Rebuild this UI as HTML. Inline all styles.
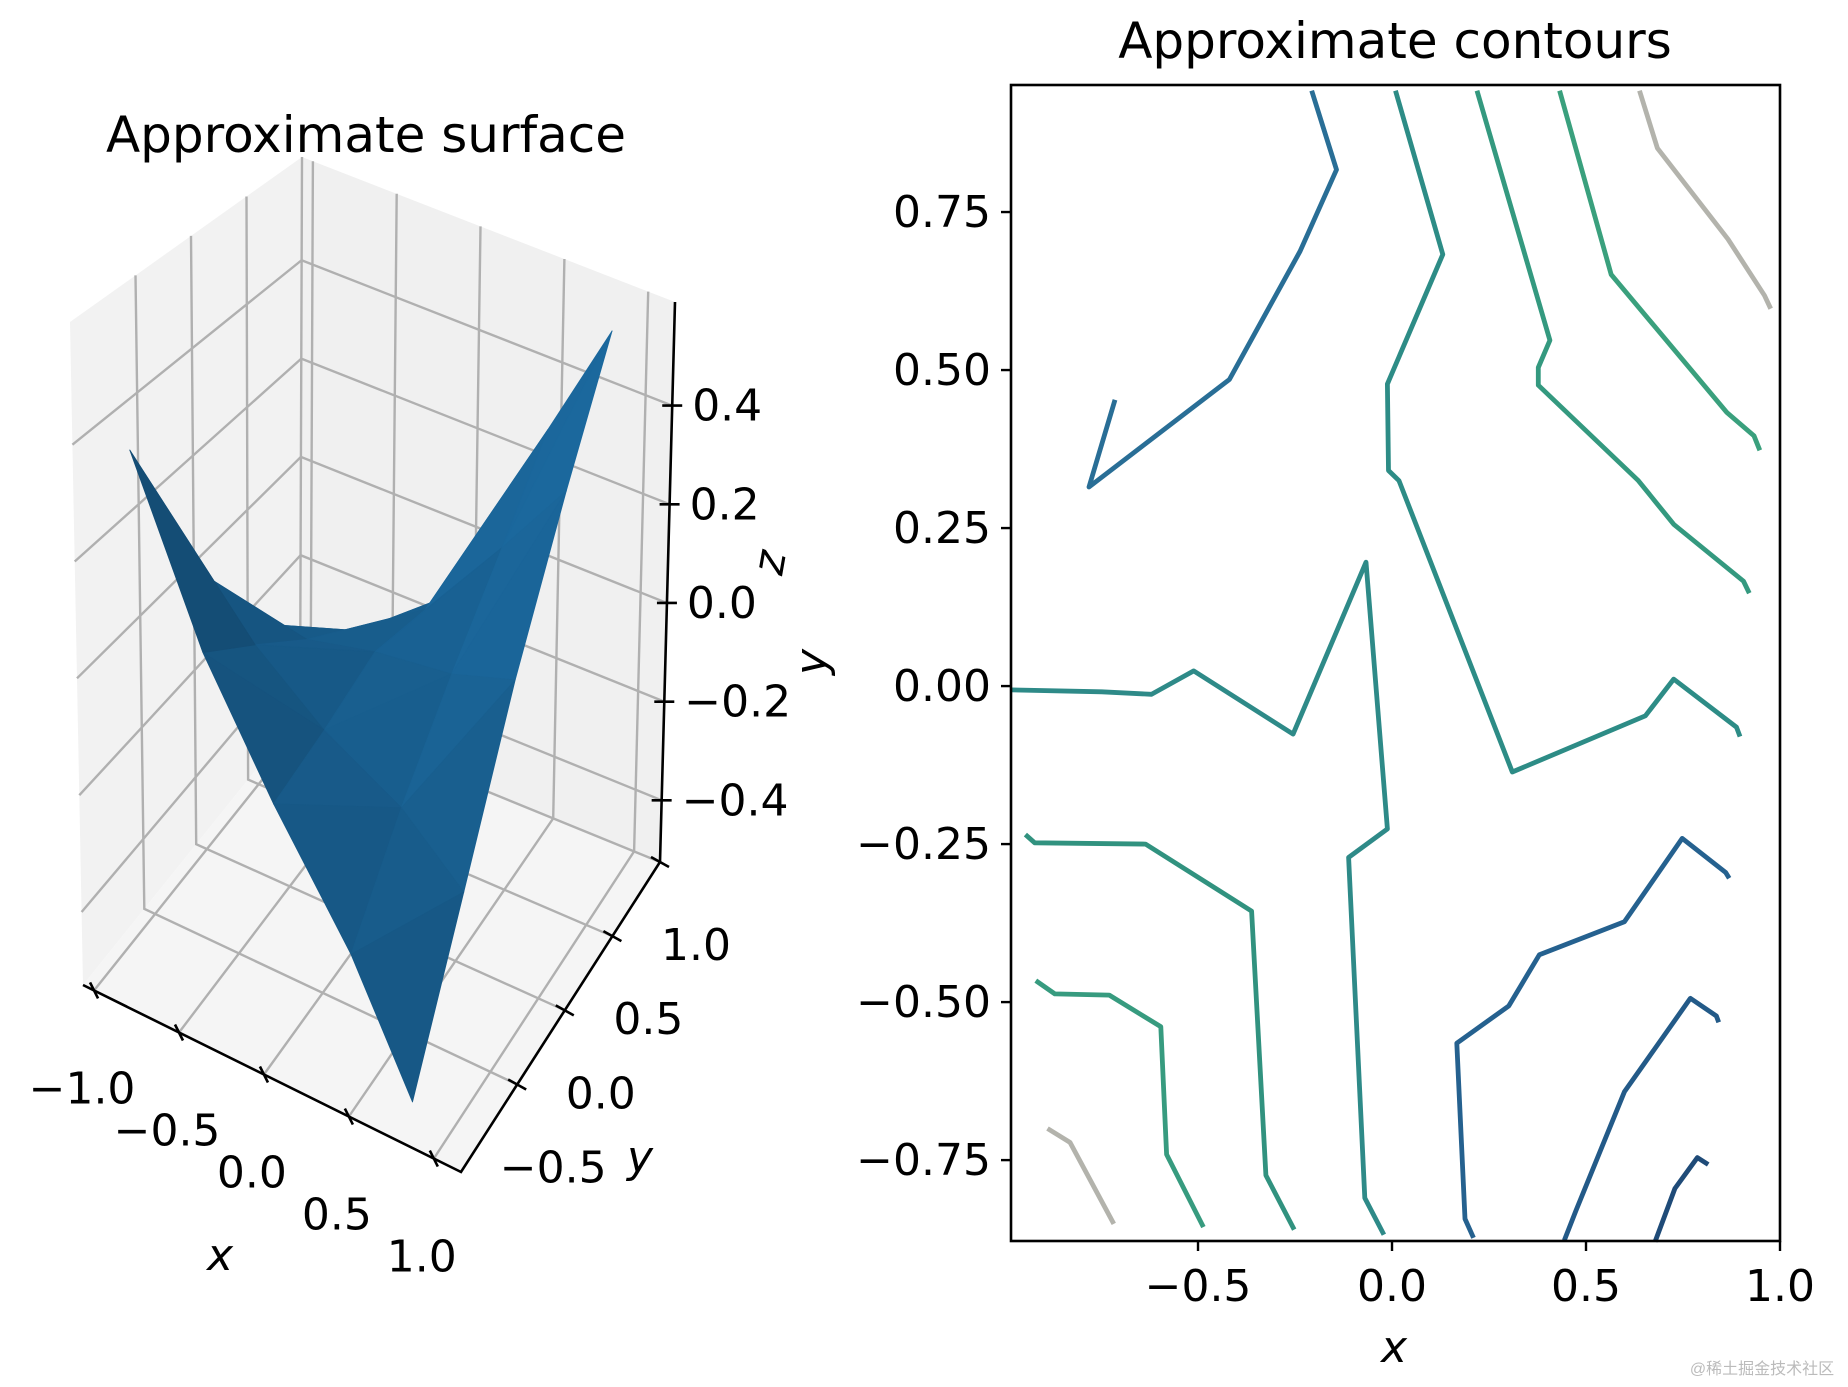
<!DOCTYPE html>
<html><head><meta charset="utf-8"><style>
html,body{margin:0;padding:0;background:#fff;}
svg{display:block;font-family:"DejaVu Sans","Liberation Sans","Noto Sans CJK SC",sans-serif;}
</style></head><body>
<svg id="fig" width="1848" height="1387" viewBox="0 0 1848 1387" xmlns="http://www.w3.org/2000/svg">
<g id="left"></g>
<g id="right"></g>
<text x="1762" y="1374" font-size="16" fill="#bbb" text-anchor="middle" font-family="'Liberation Sans','Noto Sans CJK SC',sans-serif">@稀土掘金技术社区</text>
</svg>
<script>
// ---------- Surface data ----------
const surfXs = [-0.8, -0.4, 0, 0.45, 0.82];
const surfYs = [-1, -0.5, 0, 0.5, 0.95];
const surfZ0 = [0.43, 0.15, -0.05, -0.25, -0.47];
const surfZ1 = [0.14, 0.06, -0.03, -0.10, -0.20];
const surfZ2 = [-0.07, -0.04, 0.00, 0.03, 0.08];
const surfZ3 = [-0.22, -0.14, -0.04, 0.15, 0.32];
const surfZ4 = [-0.34, -0.26, -0.11, 0.27, 0.52];
const xTicks3 = [-1.0, -0.5, 0.0, 0.5, 1.0];
const yTicks3 = [-0.5, 0.0, 0.5, 1.0];
const zTicks3 = [-0.4, -0.2, 0.0, 0.2, 0.4];

// ---------- Contour data ----------
const contourA = [[-0.207,0.942],[-0.143,0.817],[-0.237,0.688],[-0.419,0.485],[-0.781,0.315],[-0.714,0.453]];
const contourB = [[0.009,0.942],[0.131,0.683],[-0.012,0.478],[-0.009,0.341],[0.018,0.325],[0.310,-0.136],[0.653,-0.047],[0.726,0.011],[0.888,-0.065],[0.897,-0.080]];
const contourC = [[0.219,0.942],[0.407,0.547],[0.377,0.504],[0.377,0.476],[0.635,0.325],[0.726,0.256],[0.906,0.166],[0.921,0.147]];
const contourD = [[0.432,0.942],[0.565,0.651],[0.863,0.433],[0.933,0.396],[0.948,0.373]];
const contourE = [[0.638,0.942],[0.684,0.851],[0.866,0.707],[0.960,0.618],[0.976,0.597]];
const contourF = [[-0.982,-0.006],[-0.748,-0.009],[-0.620,-0.013],[-0.511,0.024],[-0.255,-0.076],[-0.067,0.196],[-0.012,-0.226],[-0.112,-0.271],[-0.070,-0.810],[-0.021,-0.868]];
const contourG = [[-0.945,-0.235],[-0.921,-0.248],[-0.635,-0.250],[-0.362,-0.356],[-0.325,-0.774],[-0.252,-0.860]];
const contourH = [[-0.918,-0.466],[-0.869,-0.487],[-0.729,-0.489],[-0.596,-0.539],[-0.581,-0.741],[-0.486,-0.856]];
const contourI = [[-0.888,-0.700],[-0.830,-0.722],[-0.717,-0.851]];
const contourJ = [[0.210,-0.873],[0.188,-0.843],[0.167,-0.565],[0.301,-0.506],[0.380,-0.425],[0.599,-0.373],[0.748,-0.241],[0.860,-0.295],[0.869,-0.304]];
const contourK = [[0.444,-0.877],[0.474,-0.830],[0.599,-0.642],[0.769,-0.494],[0.836,-0.522],[0.842,-0.532]];
const contourL = [[0.678,-0.879],[0.729,-0.795],[0.787,-0.746],[0.815,-0.757]];
const contourColors = ['#296e96','#2d8c86','#34997f','#3aa07d','#b3b3ac','#2e8a88','#31927f','#379b7f','#b3b3ac','#25618f','#235a88','#1f4b78'];
const xTicks2 = [-0.5, 0.0, 0.5, 1.0];
const yTicks2 = [-0.75, -0.5, -0.25, 0.0, 0.25, 0.5, 0.75];

const NS = 'http://www.w3.org/2000/svg';
function mk(parent, tag, attrs, txt){
  const e = document.createElementNS(NS, tag);
  for (const k in attrs) e.setAttribute(k, attrs[k]);
  if (txt !== undefined) e.textContent = txt;
  parent.appendChild(e);
  return e;
}
const fmt = v => (v < 0 ? '\u2212' : '') + Math.abs(v).toFixed(1);
const fmt2 = v => (v < 0 ? '\u2212' : '') + Math.abs(v).toFixed(2);

// ---------- 3D axes ----------
const L = document.getElementById('left');
const X0=-1.065, X1=1.16, Y0=-1.09, Y1=1.0, Z0=-0.525, Z1=0.61;
const B = {c00:[83,985], c10:[461,1172], c11:[660,862], c01:[300,715]};
const T = {c00:[70,322], c10:[478,600], c11:[675,302], c01:[302,157]};
function bil(C,u,v){
  return [0,1].map(i => C.c00[i]*(1-u)*(1-v) + C.c10[i]*u*(1-v) + C.c11[i]*u*v + C.c01[i]*(1-u)*v);
}
function P(x,y,z){
  const u=(x-X0)/(X1-X0), v=(y-Y0)/(Y1-Y0), w=(z-Z0)/(Z1-Z0);
  const b=bil(B,u,v), t=bil(T,u,v);
  return [b[0]+(t[0]-b[0])*w, b[1]+(t[1]-b[1])*w];
}
const pts = a => a.map(p => p[0].toFixed(1)+','+p[1].toFixed(1)).join(' ');

let e;
e = mk(L,'polygon',{points:pts([P(X0,Y0,Z0),P(X0,Y0,Z1),P(X0,Y1,Z1),P(X0,Y1,Z0)]),fill:'#f2f2f2'});


e = mk(L,'polygon',{points:pts([P(X0,Y1,Z0),P(X0,Y1,Z1),P(X1,Y1,Z1),P(X1,Y1,Z0)]),fill:'#f0f0f0'});


e = mk(L,'polygon',{points:pts([P(X0,Y0,Z0),P(X1,Y0,Z0),P(X1,Y1,Z0),P(X0,Y1,Z0)]),fill:'#f5f5f5'});



const grid = mk(L,'g',{stroke:'#b0b0b0','stroke-width':2.4,fill:'none'});


xTicks3.forEach(t => {
  mk(grid,'polyline',{points:pts([P(t,Y0,Z0),P(t,Y1,Z0),P(t,Y1,Z1)])});
});
yTicks3.forEach(t => {
  mk(grid,'polyline',{points:pts([P(X1,t,Z0),P(X0,t,Z0),P(X0,t,Z1)])});
});
zTicks3.forEach(t => {
  mk(grid,'polyline',{points:pts([P(X0,Y0,t),P(X0,Y1,t),P(X1,Y1,t)])});
});

// surface
const surfZ = [surfZ0,surfZ1,surfZ2,surfZ3,surfZ4];
const tris = [];
for (let j=0;j<surfYs.length-1;j++) for (let i=0;i<surfXs.length-1;i++){
  const a=[surfXs[i],surfYs[j],surfZ[j][i]], b=[surfXs[i+1],surfYs[j],surfZ[j][i+1]];
  const c=[surfXs[i+1],surfYs[j+1],surfZ[j+1][i+1]], d=[surfXs[i],surfYs[j+1],surfZ[j+1][i]];
  tris.push([a,b,c]); tris.push([a,c,d]);
}
const lv=[-0.61,-0.61,0.51];
const surfG = mk(L,'g',{});


tris.map(t => {
  const cx=(t[0][0]+t[1][0]+t[2][0])/3, cy=(t[0][1]+t[1][1]+t[2][1])/3, cz=(t[0][2]+t[1][2]+t[2][2])/3;
  const key=(cx-X0)/(X1-X0)-(cy-Y0)/(Y1-Y0)+0.3*(cz-Z0)/(Z1-Z0);
  return {t,key};
}).sort((p,q)=>p.key-q.key).forEach(o => {
  const [a,b,c]=o.t;
  const u=[b[0]-a[0],b[1]-a[1],b[2]-a[2]], v=[c[0]-a[0],c[1]-a[1],c[2]-a[2]];
  let n=[u[1]*v[2]-u[2]*v[1], u[2]*v[0]-u[0]*v[2], u[0]*v[1]-u[1]*v[0]];
  if (n[2]<0) n=n.map(q=>-q);
  const nl=Math.hypot(n[0],n[1],n[2]);
  const dot=(n[0]*lv[0]+n[1]*lv[1]+n[2]*lv[2])/nl;
  const s=0.65+0.25*Math.max(dot,0);
  const col='rgb('+Math.round(31*s)+','+Math.round(119*s)+','+Math.round(180*s)+')';
  const poly = mk(surfG,'polygon',{points:pts([P(...a),P(...b),P(...c)]),fill:col,stroke:col,'stroke-width':0.8,'stroke-linejoin':'round'});
  
  
});

// axes lines
const ax = mk(L,'g',{stroke:'#000','stroke-width':2.6,fill:'none'});


mk(ax,'polyline',{points:pts([P(X0,Y0,Z0),P(X1,Y0,Z0),P(X1,Y1,Z0),P(X1,Y1,Z1)])});
const labs = mk(L,'g',{'font-size':44,fill:'#000'});
xTicks3.forEach(t => {
  const p=P(t,Y0,Z0);
  mk(ax,'line',{x1:p[0]-4,y1:p[1]-8,x2:p[0]+4,y2:p[1]+8});
  const tx = mk(labs,'text',{x:(p[0]-12).toFixed(1),y:(p[1]+113).toFixed(1),'text-anchor':'middle'},fmt(t));
  
  
});
yTicks3.forEach(t => {
  const p=P(X1,t,Z0);
  mk(ax,'line',{x1:p[0]-9,y1:p[1]-5,x2:p[0]+9,y2:p[1]+5});
  const tx = mk(labs,'text',{x:(p[0]+36).toFixed(1),y:(p[1]+98).toFixed(1),'text-anchor':'middle'},fmt(t));
  
  
});
zTicks3.forEach(t => {
  const p=P(X1,Y1,t);
  mk(ax,'line',{x1:p[0]-10,y1:p[1],x2:p[0]+10,y2:p[1]});
  const tx = mk(labs,'text',{x:(p[0]+20).toFixed(1),y:(p[1]+15).toFixed(1),'text-anchor':'start'},fmt(t));
  
  
});
e = mk(L,'text',{x:220,y:1270,'font-size':44,'font-style':'italic','text-anchor':'middle'},'x');


e = mk(L,'text',{x:640,y:1172,'font-size':44,'font-style':'italic','text-anchor':'middle'},'y');


e = mk(L,'text',{x:784,y:565,'font-size':44,'font-style':'italic','text-anchor':'middle',transform:'rotate(-80 784 565)'},'z');


e = mk(L,'text',{x:366,y:152,'font-size':50,'text-anchor':'middle'},'Approximate surface');



// ---------- Contour axes ----------
const R = document.getElementById('right');
const AL=1011, AR=1780, AT=85, AB=1241;
const xMin=-0.982, xMax=1.0, yMin=-0.878, yMax=0.951;
const sx = x => AL + (x-xMin)/(xMax-xMin)*(AR-AL);
const sy = y => AB - (y-yMin)/(yMax-yMin)*(AB-AT);
const contours=[contourA,contourB,contourC,contourD,contourE,contourF,contourG,contourH,contourI,contourJ,contourK,contourL];
const cg = mk(R,'g',{fill:'none','stroke-width':4.8,'stroke-linejoin':'round'});


contours.forEach((c,i) => {
  const pl = mk(cg,'polyline',{points:c.map(p=>sx(p[0]).toFixed(1)+','+sy(p[1]).toFixed(1)).join(' '),stroke:contourColors[i]});
  
  
});
e = mk(R,'rect',{x:AL,y:AT,width:AR-AL,height:AB-AT,fill:'none',stroke:'#000','stroke-width':2.6});


const tg = mk(R,'g',{'font-size':44,fill:'#000'});


xTicks2.forEach(t => {
  const X=sx(t);
  mk(R,'line',{x1:X,y1:AB,x2:X,y2:AB+10,stroke:'#000','stroke-width':2.4});
  const tx = mk(tg,'text',{x:X.toFixed(1),y:AB+60,'text-anchor':'middle'},fmt(t));
  
  
});
yTicks2.forEach(t => {
  const Y=sy(t);
  mk(R,'line',{x1:AL-10,y1:Y,x2:AL,y2:Y,stroke:'#000','stroke-width':2.4});
  const tx = mk(tg,'text',{x:AL-20,y:(Y+15).toFixed(1),'text-anchor':'end'},fmt2(t));
  
  
});
e = mk(R,'text',{x:1394,y:1362,'font-size':44,'font-style':'italic','text-anchor':'middle'},'x');


e = mk(R,'text',{x:826,y:662,'font-size':44,'font-style':'italic','text-anchor':'middle',transform:'rotate(-90 826 662)'},'y');


e = mk(R,'text',{x:1395,y:58,'font-size':50,'text-anchor':'middle'},'Approximate contours');


</script>
</body></html>
